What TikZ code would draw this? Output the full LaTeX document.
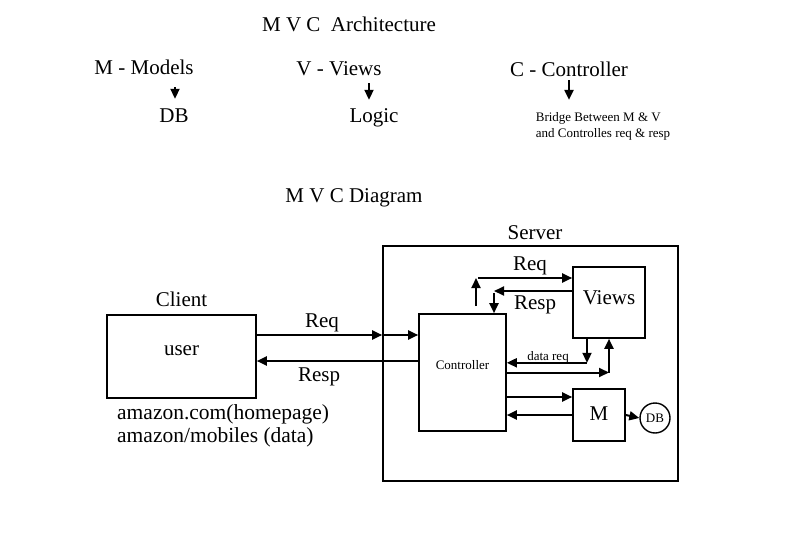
\documentclass[tikz,border=0pt]{standalone}
\usepackage{fontspec}
\setmainfont{Liberation Serif}
\usetikzlibrary{arrows.meta, positioning}
\tikzstyle{box} = [
  rectangle,
  draw=black,
  line width=1.6pt,
  inner sep=0,
  text centered
]
\tikzstyle{bigtext} = [
  font=\fontsize{21}{23}\selectfont,
  inner sep=0,
  text height=14pt,
  text depth=0pt
]
\tikzstyle{smalltext} = [
  font=\fontsize{13}{16}\selectfont,
  inner sep=0,
  text height=9pt,
  text depth=0pt
]
\tikzstyle{arrow} = [
  line width=2pt,
  -{Triangle[length=10pt,width=9pt]}
]

\begin{document}
\begin{tikzpicture}[x=1pt, y=1pt]
    \useasboundingbox (0,0) rectangle (789,550);

    % architecture notes
    \node (title) [bigtext] at (349,525) {M V C~~Architecture};
    \node (models) [bigtext] at (144,482) {M - Models};
    \node (viewsnote) [bigtext] at (339,481) {V - Views};
    \node (ctrlnote) [bigtext] at (569,480) {C - Controller};
    \node (dbnote) [bigtext] at (174,435) {DB};
    \node (logic) [bigtext] at (374,434) {Logic};
    \node (bridge) [smalltext, text height=, text depth=, align=left] at (603,424) {Bridge Between M \& V\\and Controlles req \& resp};

    \draw [arrow, shorten <=12pt, shorten >=9pt] ([xshift=1pt]dbnote.north |- models.south) -- ([xshift=1pt]dbnote.north);
    \draw [arrow, shorten <=7pt, shorten >=9pt] ([xshift=-5pt]logic.north |- viewsnote.south) -- ([xshift=-5pt]logic.north);
    \draw [arrow, shorten <=3pt, shorten >=12pt] (ctrlnote.south) -- (ctrlnote.south |- bridge.north);

    % diagram
    \node (diagram) [bigtext] at (354,355) {M V C Diagram};
    \node (client) [box, bigtext, minimum width=149pt, minimum height=83pt, text depth=15.5pt] at (181.5,193.5) {user};
    \node (clienttext) [bigtext, above=8pt of client.north] {Client};
    \node (urls) [font=\fontsize{21.5}{23}\selectfont, inner sep=0, align=left, anchor=west] at (117,124.5) {amazon.com(homepage)\\amazon/mobiles (data)};

    \node (server) [box, minimum width=295pt, minimum height=235pt] at (530.5,186.5) {};
    \node (servertext) [bigtext, above=6pt of server.north, xshift=4.5pt] {Server};
    \node (ctrl) [box, smalltext, minimum width=87pt, minimum height=117pt, text depth=15.4pt] at (462.5,177.5) {Controller};
    \node (views) [box, bigtext, minimum width=72pt, minimum height=71pt, text depth=11pt] at (609,247.5) {Views};
    \node (m) [box, bigtext, minimum width=52pt, minimum height=52pt, text depth=4pt] at (599,135) {M};
    \node (db) [circle, draw=black, line width=1.4pt, minimum size=30pt, smalltext] at (655,132) {DB};

    % client <-> controller
    \coordinate (reqin) at ([yshift=37.5pt]ctrl.west);
    \coordinate (respout) at ([yshift=11.5pt]ctrl.west);
    \draw [arrow] (reqin -| client.east) -- (reqin -| server.west);
    \draw [arrow] (reqin -| server.west) -- (reqin);
    \draw [arrow] (respout) -- (respout -| client.east);
    \node (reqlabel) [bigtext] at (322,230) {Req};
    \node (resplabel) [bigtext] at (319,176) {Resp};

    % controller <-> views
    \coordinate (upfoot) at ([xshift=13.5pt, yshift=7pt]ctrl.north);
    \coordinate (vreq) at ([yshift=24.5pt]views.west);
    \coordinate (uptip) at (upfoot |- vreq);
    \draw [arrow] (upfoot) -- (uptip);
    \draw [arrow] ([xshift=2pt]uptip) -- (vreq);
    \node (vreqlabel) [bigtext] at (530,287) {Req};

    \coordinate (vresp) at ([yshift=11.5pt]views.west);
    \coordinate (respdrop) at ([xshift=31.5pt]ctrl.north);
    \draw [arrow] (vresp) -- (vresp -| respdrop);
    \draw [arrow] ([yshift=-2pt]respdrop |- vresp) -- (respdrop);
    \node (vresplabel) [bigtext] at (535,248) {Resp};

    \coordinate (dreqtop) at ([xshift=-22pt]views.south);
    \coordinate (dreqturn) at ([yshift=-24pt]dreqtop);
    \draw [arrow] (dreqtop) -- (dreqturn);
    \draw [arrow] (dreqturn) -- (dreqturn -| ctrl.east);
    \node (dreqlabel) [smalltext] at (548,194) {data req};

    \coordinate (vupfoot) at (views.south |- ctrl.east);
    \draw [arrow] (ctrl.east) -- (vupfoot);
    \draw [arrow] (vupfoot) -- (views.south);

    % controller <-> model
    \coordinate (mreq) at ([yshift=18pt]m.west);
    \draw [arrow] (mreq -| ctrl.east) -- (mreq);
    \draw [arrow] (m.west) -- (m.west -| ctrl.east);
    \draw [arrow] (m.east) -- (db.west);

\end{tikzpicture}
\end{document}
